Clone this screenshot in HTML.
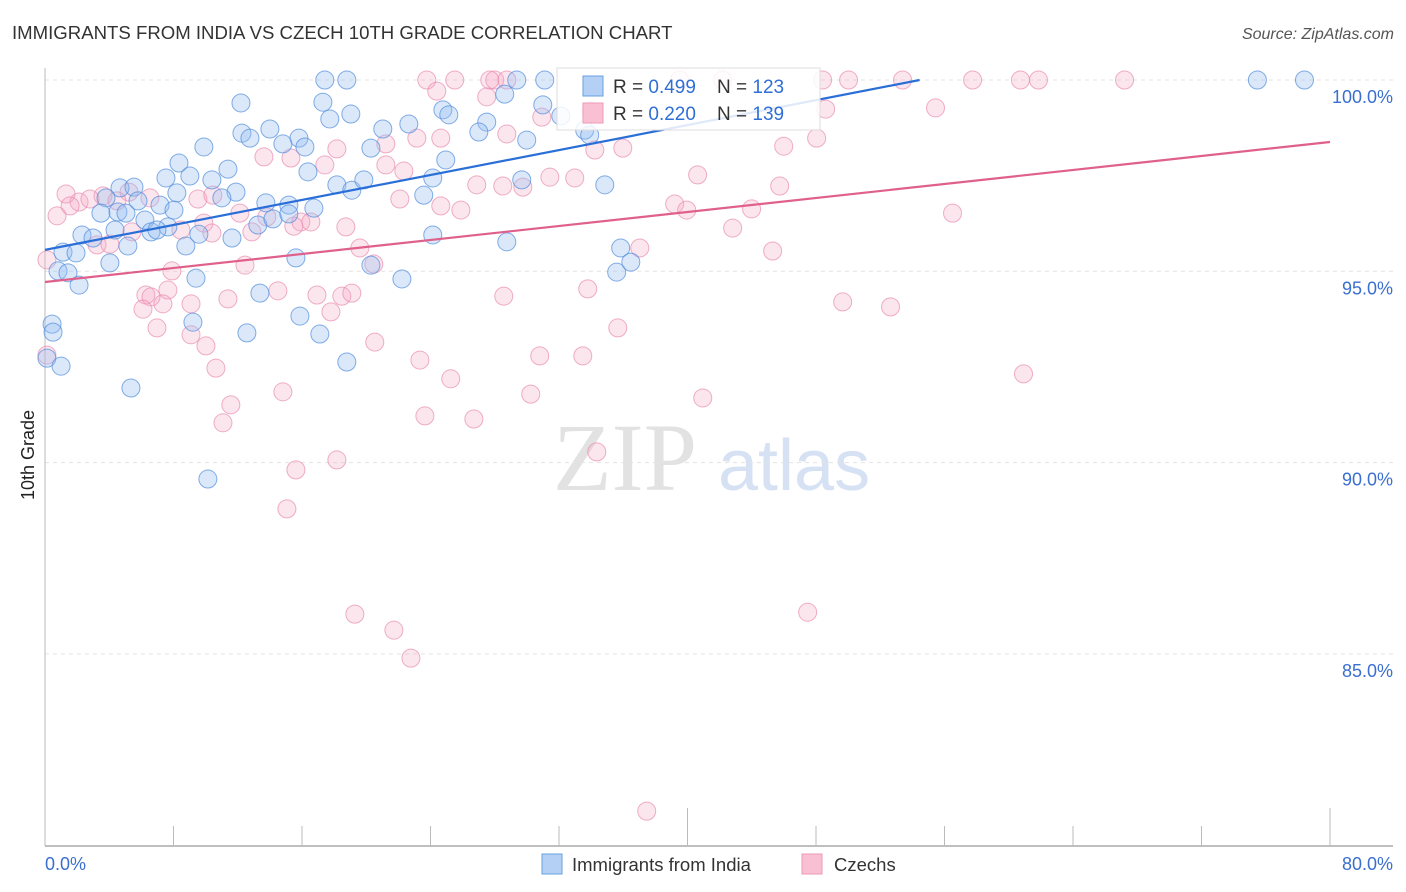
<!DOCTYPE html>
<html><head><meta charset="utf-8"><style>
body{margin:0;background:#fff;}
svg{display:block;font-family:"Liberation Sans",sans-serif;}
</style></head><body>
<svg id="chart" width="1406" height="892">
<text x="12" y="39" font-size="18.6" fill="#333">IMMIGRANTS FROM INDIA VS CZECH 10TH GRADE CORRELATION CHART</text>
<text x="1394" y="39" font-size="16" fill="#555" font-style="italic" text-anchor="end">Source: ZipAtlas.com</text>
<text x="0" y="0" font-size="18" fill="#222" transform="translate(34,455) rotate(-90)" text-anchor="middle">10th Grade</text>
<g><text x="553" y="490" font-size="96" fill="#e2e2e2" font-family="Liberation Serif,serif">ZIP</text><text x="718" y="490" font-size="72" fill="#d6e2f4">atlas</text></g>
<g id="grid"></g><g id="axes"></g><g id="marks"></g><g id="lines"></g>
<g>
<rect x="557" y="68" width="263" height="62" fill="#fff" fill-opacity="0.85" stroke="#ddd"/>
<rect x="583" y="76" width="20" height="20" fill="#b4d0f4" stroke="#6a9fe0"/>
<text x="613" y="93" font-size="19" fill="#333" xml:space="preserve">R = <tspan fill="#2f6fd6">0.499</tspan>    N = <tspan fill="#2f6fd6">123</tspan></text>
<rect x="583" y="103" width="20" height="20" fill="#f8c0d2" stroke="#ee9ab5"/>
<text x="613" y="120" font-size="19" fill="#333" xml:space="preserve">R = <tspan fill="#2f6fd6">0.220</tspan>    N = <tspan fill="#2f6fd6">139</tspan></text>
</g>
<g>
<rect x="542" y="854" width="20" height="20" fill="#b4d0f4" stroke="#6a9fe0"/>
<text x="572" y="871" font-size="18.5" fill="#333">Immigrants from India</text>
<rect x="802" y="854" width="20" height="20" fill="#f8c0d2" stroke="#ee9ab5"/>
<text x="834" y="871" font-size="18.5" fill="#333">Czechs</text>
</g>
</svg>
<script>
const xTickLabels=["0.0%","80.0%"];
const yTicks=[100,95,90,85];
const yTickLabels=["100.0%","95.0%","90.0%","85.0%"];
const indiaX=[17.42,18.79,31.11,29.37,78.41,28.62,12.2,17.3,24.77,19.04,17.73,25.14,27.5,32.11,12.26,14,12.76,21.03,22.65,15.81,9.89,14.81,16.18,27.01,29.99,33.6,33.91,20.29,8.34,11.39,24.95,16.37,9.02,7.53,10.39,11.89,4.67,5.54,8.21,11.01,18.17,19.1,19.85,24.14,23.58,29.68,34.85,13.75,15.18,16.74,3.8,5.79,7.16,4.54,3.48,5.04,8.03,6.22,7.65,9.58,11.64,13.25,14.19,15.18,2.3,2.99,4.36,6.6,6.97,5.16,8.77,1.12,1.93,0.81,1.43,2.12,4.04,9.4,15.62,20.29,22.22,24.14,28.75,35.59,35.84,36.47,13.38,15.87,9.21,12.57,17.11,0.44,0.5,0.12,1,5.35,18.79,10.14,30.99,75.48];
const indiaY=[100,100,100,100,100,99.63,99.4,99.42,99.22,99.11,98.98,99.09,98.9,99.06,98.61,98.72,98.48,98.72,98.85,98.48,98.25,98.33,98.25,98.64,98.43,98.69,98.56,98.22,97.83,97.67,97.91,97.6,97.49,97.44,97.39,97.07,97.18,97.2,97.05,96.92,97.26,97.12,97.39,97.44,96.99,97.39,97.26,96.79,96.73,96.65,96.92,96.84,96.73,96.55,96.52,96.52,96.6,96.34,96.16,95.97,95.87,96.21,96.37,96.5,95.95,95.87,96.08,96.03,96.08,95.66,95.66,95.5,95.48,95.01,94.96,94.64,95.22,94.82,95.35,95.16,94.8,95.95,95.77,94.98,95.61,95.24,94.43,93.83,93.67,93.39,93.36,93.62,93.41,92.73,92.52,91.95,92.63,89.57,99.35,100];
const czechX=[23.77,25.51,28,28.75,27.69,39.51,42.19,48.41,50.03,53.39,57.75,60.73,61.85,67.21,24.39,27.5,55.44,48.6,33.98,30.93,24.64,23.15,28.75,21.22,34.23,35.97,45.99,48.04,18.17,13.63,15.31,17.42,21.22,22.34,31.43,32.98,40.63,45.74,26.88,28.5,29.75,22.09,24.64,25.89,39.2,39.95,43.99,56.5,42.81,45.3,37.03,1.31,3.61,5.23,6.53,2.12,2.8,1.56,4.48,9.52,10.45,12.13,13.81,15.93,16.55,0.75,3.24,4.04,5.41,8.46,9.89,10.39,12.88,15.49,18.73,19.6,20.47,12.45,7.9,6.28,6.6,7.65,7.34,6.1,9.09,11.39,14.5,16.93,17.8,18.48,19.1,28.56,33.79,49.66,52.64,6.97,9.09,10.02,10.64,20.53,23.34,25.26,30.8,33.48,35.66,60.92,11.57,11.08,14.81,23.65,26.7,30.24,40.95,34.35,15.62,18.17,15.06,19.29,21.72,22.78,47.48,37.46,0.12,0.12];
const czechY=[100,100,100,100,100,100,100,100,100,100,100,100,100,100,99.71,99.56,99.27,99.24,99.19,99.03,98.48,98.48,98.59,98.33,98.17,98.22,98.27,98.48,98.2,97.99,97.96,97.78,97.78,97.62,97.46,97.44,97.52,97.23,97.26,97.23,97.2,96.89,96.71,96.6,96.76,96.6,96.63,96.52,96.13,95.53,95.61,97.02,96.97,97.07,96.92,96.81,96.89,96.71,96.84,96.89,96.99,96.52,96.42,96.29,96.29,96.45,95.69,95.71,96.03,96.08,96.26,96,96.03,96.18,96.16,95.61,95.19,95.16,95.01,94.38,94.33,94.51,94.15,94.01,94.15,94.28,94.49,94.38,93.94,94.35,94.43,94.35,94.54,94.2,94.07,93.52,93.34,93.05,92.47,93.15,92.68,92.19,92.79,92.79,93.52,92.32,91.51,91.04,91.85,91.22,91.14,91.79,91.69,90.28,89.81,90.07,88.79,86.04,85.62,84.89,86.09,80.89,92.81,95.3];
const indiaTrend=[95.56,54.45]; // y at x=0, x where it reaches 100
const czechTrend=[94.72,98.38]; // y at x=0, y at x=80
const NS="http://www.w3.org/2000/svg";
const X=v=>45+v*(1285/80);
const Y=v=>80+(100-v)*38.26;
function mk(t,a,p){const e=document.createElementNS(NS,t);for(const k in a)e.setAttribute(k,a[k]);p.appendChild(e);return e;}
const grid=document.getElementById('grid'),axes=document.getElementById('axes'),marks=document.getElementById('marks'),lines=document.getElementById('lines');
yTicks.forEach((t,i)=>{
 const l=mk('line',{x1:45,x2:1393,y1:Y(t),y2:Y(t),stroke:'#e3e3e3','stroke-dasharray':'4,4'},grid);
 
 
 const tx=mk('text',{x:1393,y:Y(t)+23,'font-size':18,fill:'#3a6fd0','text-anchor':'end'},axes);
 tx.textContent=yTickLabels[i];
 
 
});
mk('line',{x1:45,x2:45,y1:68,y2:846,stroke:'#bbb'},axes);
mk('line',{x1:45,x2:1393,y1:846,y2:846,stroke:'#aaa','stroke-width':1.5},axes);
for(let i=0;i<=10;i++){const v=i*8;const long=(i==5||i==10);
 const t=mk('line',{x1:X(v),x2:X(v),y1:long?808:826,y2:846,stroke:'#bbb'},axes);
 
 }
[[0,'start',45],[80,'end',1393]].forEach((d,i)=>{const t=mk('text',{x:d[2],y:870,'font-size':18,fill:'#3a6fd0','text-anchor':d[1]},axes);t.textContent=xTickLabels[i];
 
 });
czechX.forEach((x,i)=>{const c=mk('circle',{cx:X(x),cy:Y(czechY[i]),r:9,fill:'rgba(245,165,195,0.28)',stroke:'rgba(232,140,175,0.7)','stroke-width':1},marks);
 
 });
indiaX.forEach((x,i)=>{const c=mk('circle',{cx:X(x),cy:Y(indiaY[i]),r:9,fill:'rgba(150,190,240,0.35)',stroke:'rgba(80,140,220,0.7)','stroke-width':1},marks);
 
 });
const bl=mk('line',{x1:X(0),y1:Y(indiaTrend[0]),x2:X(indiaTrend[1]),y2:Y(100),stroke:'#2a6fd8','stroke-width':2.2},lines);


const pl=mk('line',{x1:X(0),y1:Y(czechTrend[0]),x2:X(80),y2:Y(czechTrend[1]),stroke:'#e0608c','stroke-width':2.2},lines);


</script>
</body></html>
